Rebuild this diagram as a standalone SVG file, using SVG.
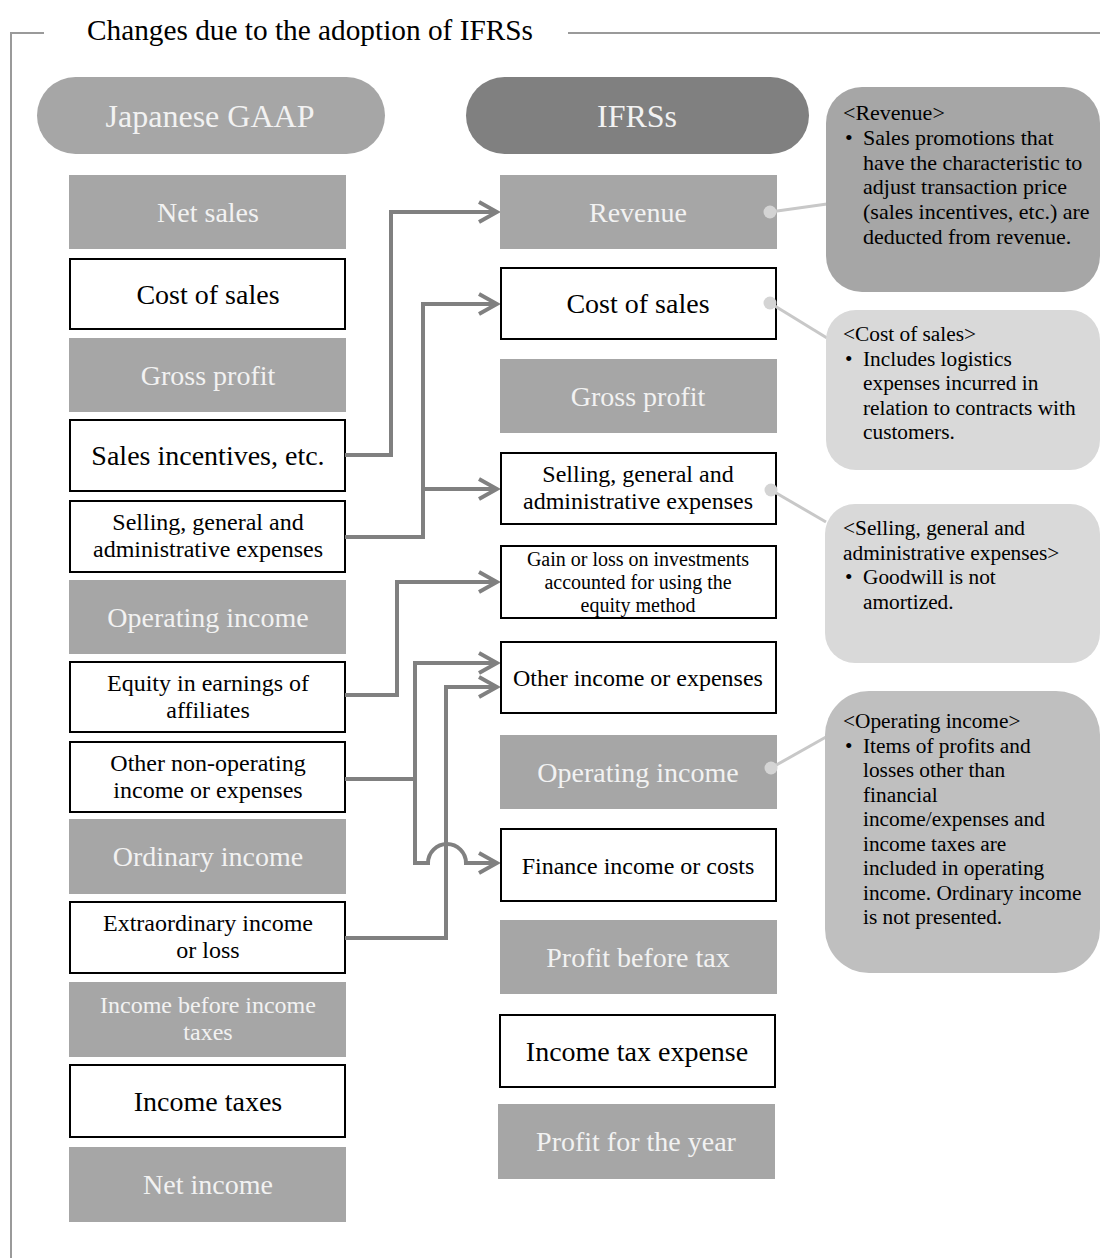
<svg xmlns="http://www.w3.org/2000/svg" width="1100" height="1259" viewBox="0 0 1100 1259">
<defs>
<style>
text{font-family:"Liberation Serif","Times New Roman",serif}
.gb{fill:#a6a6a6}
.wb{fill:#ffffff;stroke:#000000;stroke-width:2}
.gt{fill:#f2f2f2;font-size:28px;text-anchor:middle}
.gt2{fill:#f2f2f2;font-size:24px;text-anchor:middle}
.wt{fill:#000000;font-size:28px;text-anchor:middle}
.wt2{fill:#000000;font-size:24px;text-anchor:middle}
.wt3{fill:#000000;font-size:20px;text-anchor:middle}
.pill{fill:#f2f2f2;font-size:32px;text-anchor:middle}
.frame{fill:none;stroke:#9a9a9a;stroke-width:2}
.conn{fill:none;stroke:#808080;stroke-width:4;marker-end:url(#arr)}
.cl{stroke:#c8c8c8;stroke-width:3}
.dot{fill:#d4d4d4}
.ct{fill:#000000;font-size:21.33px}
.ctr{fill:#000000;font-size:22px}
</style>
<marker id="arr" markerUnits="userSpaceOnUse" markerWidth="24" markerHeight="26" viewBox="0 0 24 26" refX="21" refY="13" orient="auto">
<path d="M3,3 L21,13 L3,23" fill="none" stroke="#808080" stroke-width="4" stroke-linejoin="miter"/>
</marker>
</defs>
<rect width="1100" height="1259" fill="#ffffff"/>

<g id="frame">
<path class="frame" d="M44,33 H11 V1258"/>
<path class="frame" d="M568,33 H1100"/>
<text x="87" y="40" font-size="29.3" fill="#000000">Changes due to the adoption of IFRSs</text>
</g>

<g id="header-jgaap">
<rect x="37" y="77" width="348" height="77" rx="38.5" fill="#a6a6a6"/>
<text class="pill" x="210" y="127">Japanese GAAP</text>
</g>
<g id="header-ifrs">
<rect x="466" y="77" width="343" height="77" rx="38.5" fill="#808080"/>
<text class="pill" x="637" y="127">IFRSs</text>
</g>

<g id="j-net-sales"><rect class="gb" x="69" y="175" width="277" height="74"/><text class="gt" x="208" y="221.5">Net sales</text></g>
<g id="j-cost-of-sales"><rect class="wb" x="70" y="259" width="275" height="70"/><text class="wt" x="208" y="303.5">Cost of sales</text></g>
<g id="j-gross-profit"><rect class="gb" x="69" y="338" width="277" height="74"/><text class="gt" x="208" y="384.5">Gross profit</text></g>
<g id="j-sales-incentives"><rect class="wb" x="70" y="420" width="275" height="71"/><text class="wt" x="208" y="465">Sales incentives, etc.</text></g>
<g id="j-sga"><rect class="wb" x="70" y="501" width="275" height="71"/><text class="wt2" x="208" y="530">Selling, general and</text><text class="wt2" x="208" y="557">administrative expenses</text></g>
<g id="j-operating-income"><rect class="gb" x="69" y="580" width="277" height="74"/><text class="gt" x="208" y="626.5">Operating income</text></g>
<g id="j-equity"><rect class="wb" x="70" y="662" width="275" height="70"/><text class="wt2" x="208" y="690.5">Equity in earnings of</text><text class="wt2" x="208" y="717.5">affiliates</text></g>
<g id="j-other-nonop"><rect class="wb" x="70" y="742" width="275" height="70"/><text class="wt2" x="208" y="770.5">Other non-operating</text><text class="wt2" x="208" y="797.5">income or expenses</text></g>
<g id="j-ordinary-income"><rect class="gb" x="69" y="819" width="277" height="75"/><text class="gt" x="208" y="866">Ordinary income</text></g>
<g id="j-extraordinary"><rect class="wb" x="70" y="902" width="275" height="71"/><text class="wt2" x="208" y="931">Extraordinary income</text><text class="wt2" x="208" y="958">or loss</text></g>
<g id="j-income-before-taxes"><rect class="gb" x="69" y="982" width="277" height="75"/><text class="gt2" x="208" y="1013">Income before income</text><text class="gt2" x="208" y="1040">taxes</text></g>
<g id="j-income-taxes"><rect class="wb" x="70" y="1065" width="275" height="72"/><text class="wt" x="208" y="1110.5">Income taxes</text></g>
<g id="j-net-income"><rect class="gb" x="69" y="1147" width="277" height="75"/><text class="gt" x="208" y="1194">Net income</text></g>

<g id="i-revenue"><rect class="gb" x="500" y="175" width="277" height="74"/><text class="gt" x="638" y="221.5">Revenue</text></g>
<g id="i-cost-of-sales"><rect class="wb" x="501" y="268" width="275" height="71"/><text class="wt" x="638" y="313">Cost of sales</text></g>
<g id="i-gross-profit"><rect class="gb" x="500" y="359" width="277" height="74"/><text class="gt" x="638" y="405.5">Gross profit</text></g>
<g id="i-sga"><rect class="wb" x="501" y="453" width="275" height="71"/><text class="wt2" x="638" y="482">Selling, general and</text><text class="wt2" x="638" y="509">administrative expenses</text></g>
<g id="i-equity-method"><rect class="wb" x="501" y="546" width="275" height="72"/><text class="wt3" x="638" y="565.5">Gain or loss on investments</text><text class="wt3" x="638" y="588.5">accounted for using the</text><text class="wt3" x="638" y="611.5">equity method</text></g>
<g id="i-other-income"><rect class="wb" x="501" y="642" width="275" height="71"/><text class="wt2" x="638" y="686">Other income or expenses</text></g>
<g id="i-operating-income"><rect class="gb" x="500" y="735" width="277" height="74"/><text class="gt" x="638" y="781.5">Operating income</text></g>
<g id="i-finance"><rect class="wb" x="501" y="829" width="275" height="72"/><text class="wt2" x="638" y="873.5">Finance income or costs</text></g>
<g id="i-profit-before-tax"><rect class="gb" x="500" y="920" width="277" height="74"/><text class="gt" x="638" y="966.5">Profit before tax</text></g>
<g id="i-income-tax-expense"><rect class="wb" x="500" y="1015" width="275" height="72"/><text class="wt" x="637" y="1060.5">Income tax expense</text></g>
<g id="i-profit-for-year"><rect class="gb" x="498" y="1104" width="277" height="75"/><text class="gt" x="636" y="1151">Profit for the year</text></g>

<g id="connectors">
<path class="conn" d="M345,455 H391 V212 H497"/>
<path class="conn" d="M345,537 H423 V304 H497"/>
<path class="conn" d="M423,489 H497"/>
<path class="conn" d="M345,695 H397 V582 H497"/>
<path class="conn" d="M345,779 H415 V663 H497"/>
<path class="conn" d="M415,779 V863 H428 A19,19 0 0 1 466,863 H497"/>
<path class="conn" d="M345,938 H446 V687 H497"/>
</g>

<g id="callout-links">
<line class="cl" x1="770" y1="212" x2="827" y2="204"/>
<circle class="dot" cx="770" cy="212" r="6.5"/>
<line class="cl" x1="770" y1="303" x2="827" y2="338"/>
<circle class="dot" cx="770" cy="303" r="6.5"/>
<line class="cl" x1="771" y1="490" x2="826" y2="522"/>
<circle class="dot" cx="771" cy="490" r="6.5"/>
<line class="cl" x1="771" y1="768" x2="826" y2="737"/>
<circle class="dot" cx="771" cy="768" r="6.5"/>
</g>

<g id="note-revenue">
<rect x="826" y="87" width="274" height="205" rx="36" fill="#a6a6a6"/>
<text class="ctr" x="843" y="120">&lt;Revenue&gt;</text>
<text class="ctr" x="845" y="144.8">•</text>
<text class="ctr" x="863" y="144.8">Sales promotions that</text>
<text class="ctr" x="863" y="169.6">have the characteristic to</text>
<text class="ctr" x="863" y="194.4">adjust transaction price</text>
<text class="ctr" x="863" y="219.2">(sales incentives, etc.) are</text>
<text class="ctr" x="863" y="244">deducted from revenue.</text>
</g>
<g id="note-cost">
<rect x="826" y="310" width="274" height="160" rx="30" fill="#d9d9d9"/>
<text class="ct" x="843" y="341">&lt;Cost of sales&gt;</text>
<text class="ct" x="845" y="365.5">•</text>
<text class="ct" x="863" y="365.5">Includes logistics</text>
<text class="ct" x="863" y="390">expenses incurred in</text>
<text class="ct" x="863" y="414.5">relation to contracts with</text>
<text class="ct" x="863" y="439">customers.</text>
</g>
<g id="note-sga">
<rect x="825" y="504" width="275" height="159" rx="30" fill="#d9d9d9"/>
<text class="ct" x="843" y="535">&lt;Selling, general and</text>
<text class="ct" x="843" y="559.5">administrative expenses&gt;</text>
<text class="ct" x="845" y="584">•</text>
<text class="ct" x="863" y="584">Goodwill is not</text>
<text class="ct" x="863" y="608.5">amortized.</text>
</g>
<g id="note-operating">
<rect x="825" y="691" width="275" height="282" rx="44" fill="#bfbfbf"/>
<text class="ct" x="843" y="728">&lt;Operating income&gt;</text>
<text class="ct" x="845" y="752.5">•</text>
<text class="ct" x="863" y="752.5">Items of profits and</text>
<text class="ct" x="863" y="777">losses other than</text>
<text class="ct" x="863" y="801.5">financial</text>
<text class="ct" x="863" y="826">income/expenses and</text>
<text class="ct" x="863" y="850.5">income taxes are</text>
<text class="ct" x="863" y="875">included in operating</text>
<text class="ct" x="863" y="899.5">income. Ordinary income</text>
<text class="ct" x="863" y="924">is not presented.</text>
</g>
</svg>
